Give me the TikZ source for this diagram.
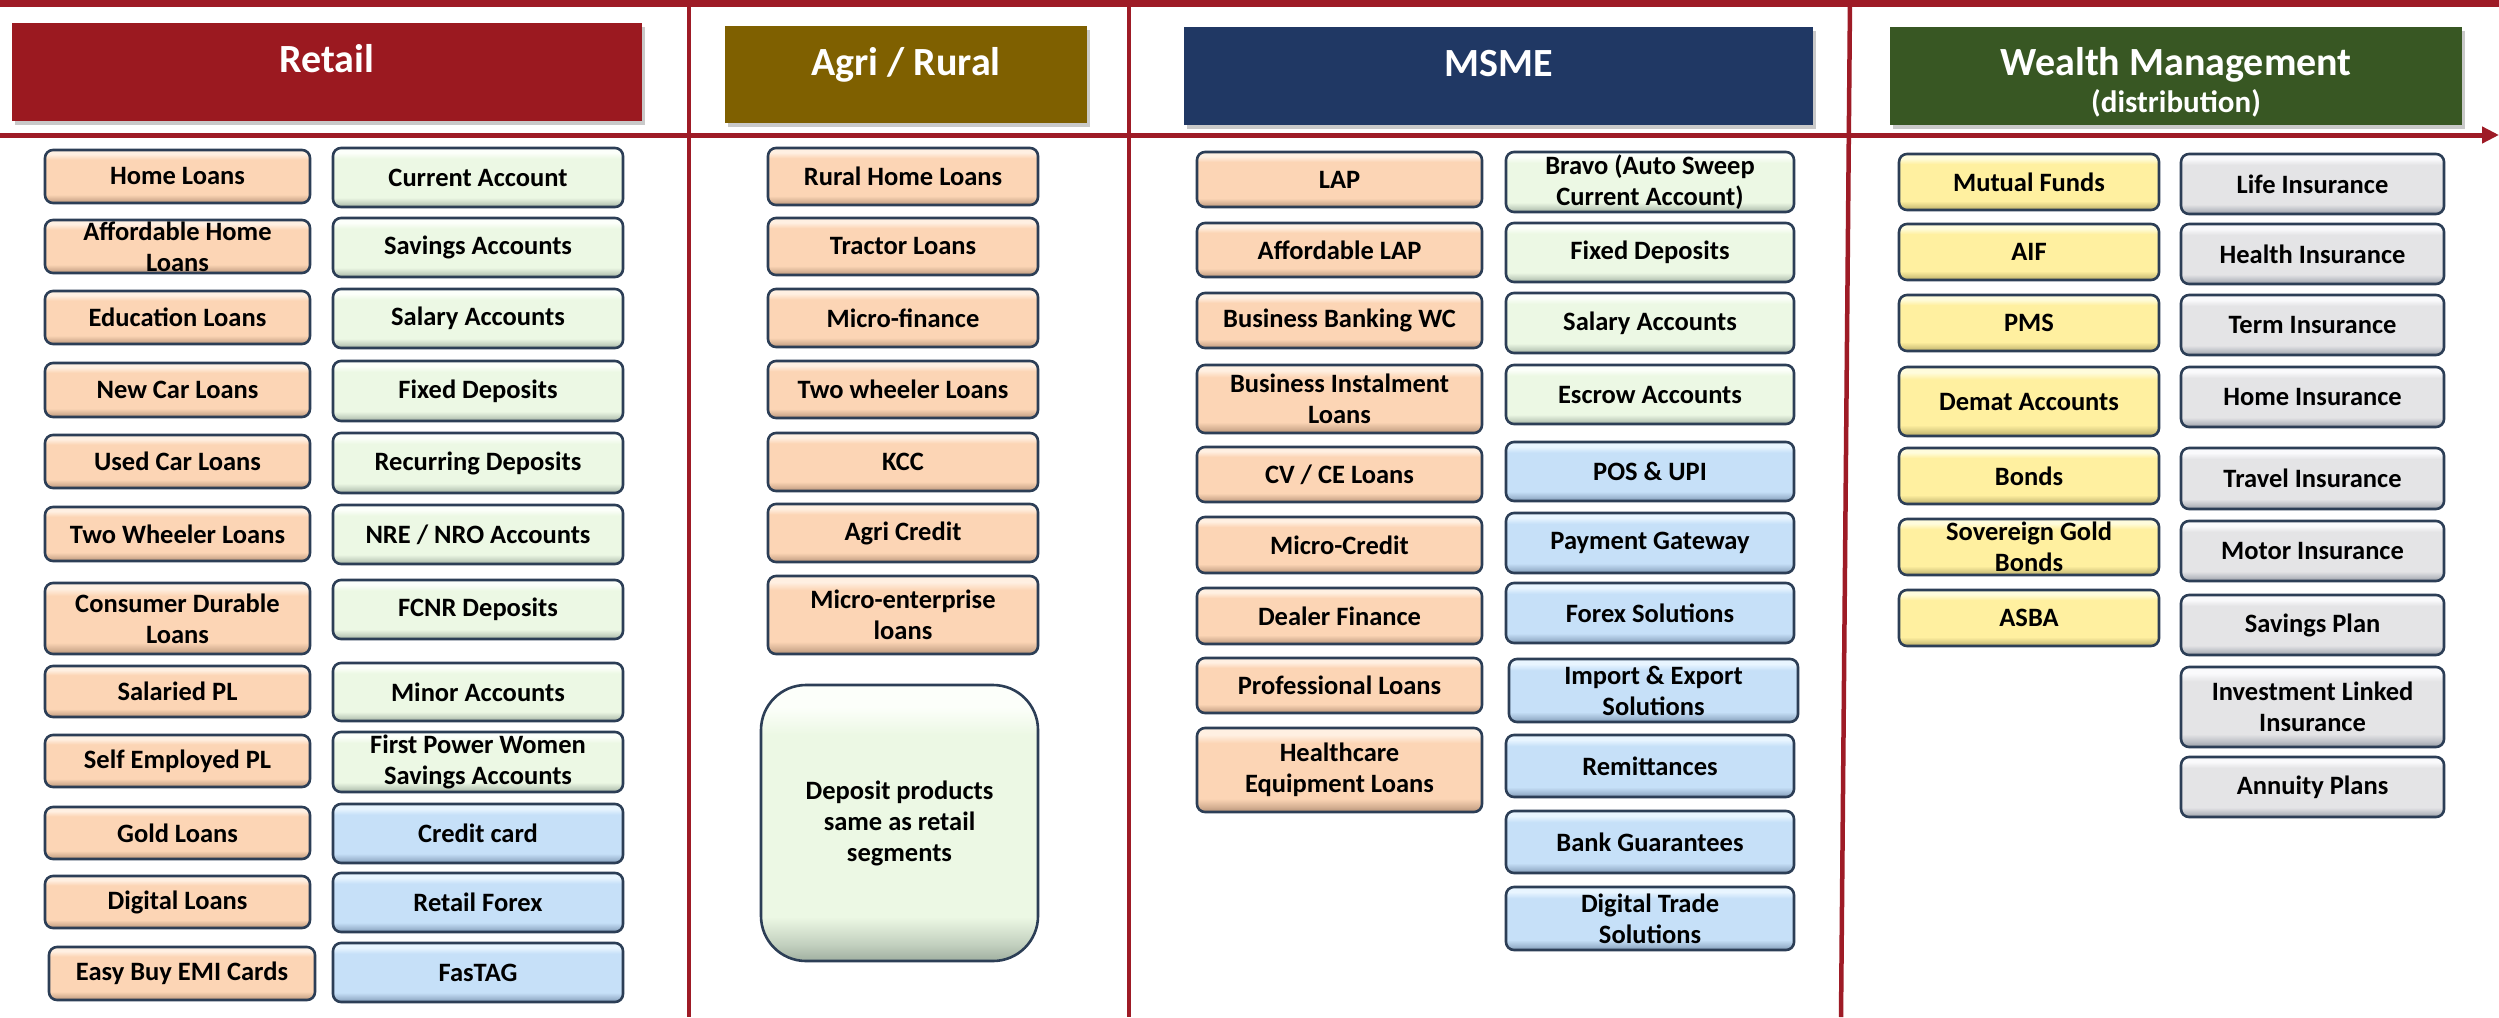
\documentclass[tikz,border=0pt]{standalone}
\usepackage{fontspec}
\setmainfont{Carlito}
\usetikzlibrary{arrows.meta,shadows}
\definecolor{sepred}{RGB}{158,27,38}
\definecolor{hdrred}{RGB}{155,25,32}
\definecolor{hdrolive}{RGB}{127,96,0}
\definecolor{hdrnavy}{RGB}{32,56,100}
\definecolor{hdrgreen}{RGB}{56,87,35}
\definecolor{boxline}{RGB}{44,62,86}
\definecolor{peach}{RGB}{252,213,181}
\definecolor{peachL}{RGB}{255,240,226}
\definecolor{peachD}{RGB}{180,145,118}
\definecolor{mint}{RGB}{236,248,228}
\definecolor{mintL}{RGB}{252,255,250}
\definecolor{mintD}{RGB}{160,175,160}
\definecolor{sky}{RGB}{198,224,248}
\definecolor{skyL}{RGB}{232,245,255}
\definecolor{skyD}{RGB}{125,150,178}
\definecolor{lemon}{RGB}{255,240,160}
\definecolor{lemonL}{RGB}{255,252,220}
\definecolor{lemonD}{RGB}{180,168,100}
\definecolor{silver}{RGB}{228,228,230}
\definecolor{silverL}{RGB}{250,250,252}
\definecolor{silverD}{RGB}{150,155,165}
\newcommand\mkbevel[1]{%
  \pgfdeclareverticalshading{bevel#1}{100bp}{color(0bp)=(#1D); color(25bp)=(#1D); color(28bp)=(#1D!55!#1); color(33bp)=(#1); color(66bp)=(#1); color(71bp)=(#1L); color(75bp)=(#1L); color(100bp)=(#1L)}}
\mkbevel{peach}\mkbevel{mint}\mkbevel{sky}\mkbevel{lemon}\mkbevel{silver}
\newcommand\itemfont{\fontsize{26.5}{31}\selectfont\bfseries}
\newcommand\hdrfont{\fontsize{40}{44}\selectfont\bfseries}
\newcommand\subhdrfont{\fontsize{31}{34}\selectfont\bfseries}
\newcommand\bx[7]{\node[#2, minimum width={#5-#3}, minimum height={#6-#4}] (#1) at ({(#3+#5)/2},{(#4+#6)/2}) {#7};}
\tikzset{
  sepline/.style={draw=sepred, line width=4.5pt},
  itembox/.style={draw=boxline, line width=2.6pt, rounded corners=8pt, inner sep=0pt, align=center, font=\itemfont, text=black, shade},
  peachbox/.style={itembox, shading=bevelpeach},
  mintbox/.style={itembox, shading=bevelmint},
  skybox/.style={itembox, shading=bevelsky},
  lemonbox/.style={itembox, shading=bevellemon},
  silverbox/.style={itembox, shading=bevelsilver},
  hdrbox/.style={inner sep=0pt, drop shadow={shadow xshift=3pt, shadow yshift=-4pt, opacity=0.35, fill=black!60}},
  hdrtext/.style={text=white, font=\hdrfont, anchor=base, inner sep=0pt},
  subhdrtext/.style={text=white, font=\subhdrfont, anchor=base, inner sep=0pt}
}
\begin{document}
\begin{tikzpicture}[x=1pt,y=-1pt]
\useasboundingbox (0,0) rectangle (2499,1017);
\fill[white] (0,0) rectangle (2499,1017);
% separators
\coordinate (topL) at (0,3.5); \coordinate (topR) at (2499,3.5);
\coordinate (midL) at (0,135); \coordinate (midR) at (2499,135);
\coordinate (v1t) at (689,0); \coordinate (v1b) at (689,1017);
\coordinate (v2t) at (1129,0); \coordinate (v2b) at (1129,1017);
\coordinate (v3t) at (1850,0); \coordinate (v3b) at (1841,1017);
\draw[sepline, line width=7pt] (topL) -- (topR);
\draw[sepline, line width=5pt, -{Triangle[length=17pt,width=16pt]}] (midL) -- (midR);
\draw[sepline] (v1t) -- (v1b);
\draw[sepline] (v2t) -- (v2b);
\draw[sepline] (v3t) -- (v3b);
% headers
\bx{hR}{hdrbox, fill=hdrred}{12}{23}{642}{121}{}
\bx{hA}{hdrbox, fill=hdrolive}{725}{26}{1087}{123}{}
\bx{hM}{hdrbox, fill=hdrnavy}{1184}{27}{1813}{125}{}
\bx{hW}{hdrbox, fill=hdrgreen}{1890}{27}{2462}{125}{}
\node[hdrtext] (tR) at ([yshift=-50pt]hR.north) {Retail};
\node[hdrtext] (tA) at ([yshift=-50pt]hA.north) {Agri / Rural};
\node[hdrtext] (tM) at ([yshift=-50pt]hM.north) {MSME};
\node[hdrtext] (tW) at ([yshift=-49pt]hW.north) {Wealth Management};
\node[subhdrtext] (tW2) at ([yshift=-86pt]hW.north) {(distribution)};
% Retail loans
\bx{rl1}{peachbox}{45}{150}{310}{203}{Home Loans}
\bx{rl2}{peachbox}{45}{220}{310}{273}{Affordable Home\\Loans}
\bx{rl3}{peachbox}{45}{291}{310}{344}{Education Loans}
\bx{rl4}{peachbox}{45}{363}{310}{417}{New Car Loans}
\bx{rl5}{peachbox}{45}{435}{310}{488}{Used Car Loans}
\bx{rl6}{peachbox}{45}{507}{310}{561}{Two Wheeler Loans}
\bx{rl7}{peachbox}{45}{583}{310}{654}{Consumer Durable\\Loans}
\bx{rl8}{peachbox}{45}{666}{310}{717}{Salaried PL}
\bx{rl9}{peachbox}{45}{735}{310}{787}{Self Employed PL}
\bx{rl10}{peachbox}{45}{807}{310}{859}{Gold Loans}
\bx{rl11}{peachbox}{45}{876}{310}{928}{Digital Loans}
\bx{rl12}{peachbox}{49}{947}{315}{1000}{Easy Buy EMI Cards}
% Retail deposits
\bx{rd1}{mintbox}{333}{148}{623}{207}{Current Account}
\bx{rd2}{mintbox}{333}{218}{623}{277}{Savings Accounts}
\bx{rd3}{mintbox}{333}{289}{623}{348}{Salary Accounts}
\bx{rd4}{mintbox}{333}{361}{623}{421}{Fixed Deposits}
\bx{rd5}{mintbox}{333}{433}{623}{493}{Recurring Deposits}
\bx{rd6}{mintbox}{333}{505}{623}{564}{NRE / NRO Accounts}
\bx{rd7}{mintbox}{333}{580}{623}{639}{FCNR Deposits}
\bx{rd8}{mintbox}{333}{663}{623}{721}{Minor Accounts}
\bx{rd9}{mintbox}{333}{732}{623}{792}{First Power Women\\Savings Accounts}
\bx{rd10}{skybox}{333}{804}{623}{863}{Credit card}
\bx{rd11}{skybox}{333}{873}{623}{932}{Retail Forex}
\bx{rd12}{skybox}{333}{943}{623}{1002}{FasTAG}
% Agri
\bx{ag1}{peachbox}{768}{148}{1038}{205}{Rural Home Loans}
\bx{ag2}{peachbox}{768}{218}{1038}{275}{Tractor Loans}
\bx{ag3}{peachbox}{768}{289}{1038}{347}{Micro-finance}
\bx{ag4}{peachbox}{768}{361}{1038}{418}{Two wheeler Loans}
\bx{ag5}{peachbox}{768}{433}{1038}{491}{KCC}
\bx{ag6}{peachbox}{768}{504}{1038}{562}{Agri Credit}
\bx{ag7}{peachbox}{768}{576}{1038}{654}{Micro-enterprise\\loans}
\bx{ag8}{mintbox, rounded corners=45pt}{761}{685}{1038}{961}{Deposit products\\same as retail\\segments}
% MSME loans
\bx{ms1}{peachbox}{1197}{152}{1482}{207}{LAP}
\bx{ms2}{peachbox}{1197}{223}{1482}{277}{Affordable LAP}
\bx{ms3}{peachbox}{1197}{293}{1482}{348}{Business Banking WC}
\bx{ms4}{peachbox}{1197}{365}{1482}{433}{Business Instalment\\Loans}
\bx{ms5}{peachbox}{1197}{447}{1482}{502}{CV / CE Loans}
\bx{ms6}{peachbox}{1197}{517}{1482}{573}{Micro-Credit}
\bx{ms7}{peachbox}{1197}{588}{1482}{644}{Dealer Finance}
\bx{ms8}{peachbox}{1197}{658}{1482}{713}{Professional Loans}
\bx{ms9}{peachbox}{1197}{728}{1482}{812}{Healthcare\\Equipment Loans}
% MSME deposits and services
\bx{md1}{mintbox}{1506}{152}{1794}{212}{Bravo (Auto Sweep\\Current Account)}
\bx{md2}{mintbox}{1506}{223}{1794}{282}{Fixed Deposits}
\bx{md3}{mintbox}{1506}{293}{1794}{353}{Salary Accounts}
\bx{md4}{mintbox}{1506}{365}{1794}{424}{Escrow Accounts}
\bx{md5}{skybox}{1506}{442}{1794}{501}{POS \& UPI}
\bx{md6}{skybox}{1506}{513}{1794}{573}{Payment Gateway}
\bx{md7}{skybox}{1506}{583}{1794}{643}{Forex Solutions}
\bx{md8}{skybox}{1509}{659}{1798}{722}{Import \& Export\\Solutions}
\bx{md9}{skybox}{1506}{735}{1794}{797}{Remittances}
\bx{md10}{skybox}{1506}{811}{1794}{873}{Bank Guarantees}
\bx{md11}{skybox}{1506}{887}{1794}{950}{Digital Trade\\Solutions}
% Wealth investments
\bx{w1}{lemonbox}{1899}{154}{2159}{210}{Mutual Funds}
\bx{w2}{lemonbox}{1899}{224}{2159}{280}{AIF}
\bx{w3}{lemonbox}{1899}{295}{2159}{351}{PMS}
\bx{w4}{lemonbox}{1899}{367}{2159}{436}{Demat Accounts}
\bx{w5}{lemonbox}{1899}{448}{2159}{504}{Bonds}
\bx{w6}{lemonbox}{1899}{519}{2159}{575}{Sovereign Gold\\Bonds}
\bx{w7}{lemonbox}{1899}{590}{2159}{646}{ASBA}
% Wealth insurance
\bx{i1}{silverbox}{2181}{154}{2444}{214}{Life Insurance}
\bx{i2}{silverbox}{2181}{224}{2444}{284}{Health Insurance}
\bx{i3}{silverbox}{2181}{295}{2444}{355}{Term Insurance}
\bx{i4}{silverbox}{2181}{367}{2444}{427}{Home Insurance}
\bx{i5}{silverbox}{2181}{448}{2444}{509}{Travel Insurance}
\bx{i6}{silverbox}{2181}{521}{2444}{581}{Motor Insurance}
\bx{i7}{silverbox}{2181}{595}{2444}{655}{Savings Plan}
\bx{i8}{silverbox}{2181}{667}{2444}{747}{Investment Linked\\Insurance}
\bx{i9}{silverbox}{2181}{757}{2444}{817}{Annuity Plans}
\end{tikzpicture}
\end{document}
